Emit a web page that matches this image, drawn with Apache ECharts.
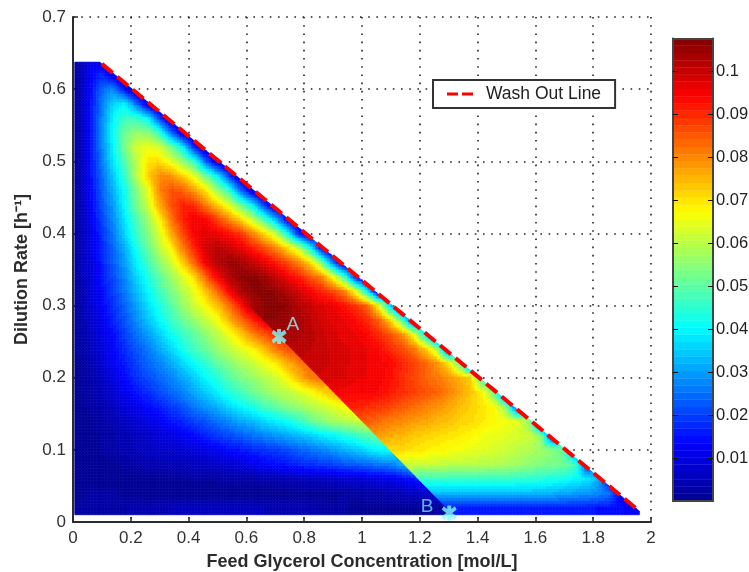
<!DOCTYPE html>
<html><head><meta charset="utf-8">
<script src="https://cdn.jsdelivr.net/npm/echarts@6/dist/echarts.min.js"></script>
<style>html,body{margin:0;background:#fff}#c{width:749px;height:572px}</style></head>
<body><div id="c"></div>
<script>
// ---- Data: values in 1/1000 units, one array per row ----
const xTicks=[0,0.2,0.4,0.6,0.8,1,1.2,1.4,1.6,1.8,2];
const yTicks=[0,0.1,0.2,0.3,0.4,0.5,0.6,0.7];
const barTicks=[0.01,0.02,0.03,0.04,0.05,0.06,0.07,0.08,0.09,0.1];
const washX=[0.1,1.96];
const washY=[0.635,0.015];
const jumpX=[0.715,1.3];           // line through A and B where the surface jumps
const jumpY=[0.257,0.0165];
const pointA=[0.713,0.257];
const pointB=[1.302,0.0125];
const rowY=[.02,.04,.06,.08,.10,.12,.14,.16,.18,.20,.22,.24,.26,.28,.30,.32,.34,.36,.38,.40,.42,.44,.46,.48,.50,.52,.54,.56,.58,.60,.62,.64];
const highStart=[31,30,29,27,26,25,24,23,21,20,19,18,17,15];
// below the jump line
const l02=[2,3,3,3,3,4,4,5,5,6,6,6,6,6,6,6,5,5,5,4,4,3,2,2,1,1,1,1,1,1,1,2,3];
const l04=[1,2,2,2,1,1,0,0,0,0,0,0,0,0,0,0,0,0,0,1,1,1,1,2,2,3,3,4,5,6,7,8];
const l06=[1,1,1,1,1,1,1,1,1,2,2,2,2,3,3,3,4,4,5,5,6,6,7,8,8,9,10,11,13,15,18];
const l08=[1,1,1,1,2,3,4,4,5,5,6,6,7,8,9,11,13,14,15,17,18,19,20,22,23,24,26,27,31,35];
const l10=[1,1,2,3,4,5,6,7,7,8,9,10,12,14,15,17,18,19,21,23,25,27,29,32,34,37,40,41];
const l12=[1,1,2,3,4,6,7,9,10,12,14,17,19,21,23,25,27,29,31,33,35,38,40,43,46,49,51];
const l14=[1,1,3,4,6,8,10,12,15,17,20,22,25,28,31,33,36,39,41,45,50,54,57,59,61,62];
const l16=[1,2,4,6,9,11,14,16,19,22,26,29,32,36,40,43,47,50,54,56,59,61,64,67,69];
const l18=[1,3,5,8,12,15,18,21,24,27,31,35,39,44,47,51,55,58,60,63,66,71,75,78];
const l20=[1,3,6,10,14,18,21,24,27,31,35,40,44,49,53,56,59,62,67,74,81,83];
const l22=[1,4,8,12,16,20,24,27,31,36,41,45,50,54,58,61,65,69,75,81,84];
const l24=[2,5,9,13,18,22,26,31,36,42,47,51,56,60,64,68,74,81,86,88];
const l26=[2,6,10,14,20,25,30,35,41,46,50,55,60,65,72,80,85,90,93];
const l28=[2,7,11,17,22,28,34,40,46,51,56,61,66,75,83,90,97,100];
const lowRows=[l02,l04,l06,l08,l10,l12,l14,l16,l18,l20,l22,l24,l26,l28];
// above the jump line (rows from 0.30 up are continuous and start at the left edge)
const h02=[16,16,16,16,16,16,16,16,16,16,16,16,16,16,15,15,14,12];
const h04=[33,33,33,33,33,33,33,33,33,33,33,32,31,30,29,28,25,10];
const h06=[46,46,46,46,46,46,46,46,46,45,45,44,43,42,40,38,32,10];
const h08=[62,62,62,61,61,60,60,60,59,59,58,57,55,54,53,52,48,18];
const h10=[72,71,71,70,69,68,67,66,65,64,63,62,60,59,57,55,50,20];
const h12=[78,78,76,75,73,72,71,70,69,68,66,65,64,63,62,55,15];
const h14=[86,85,83,81,80,78,77,75,74,72,71,69,68,66,64,55,15];
const h16=[91,91,90,89,87,85,83,81,79,77,74,72,70,67,55,15];
const h18=[96,96,95,95,95,94,92,90,88,86,84,81,77,73,68,50,15];
const h20=[99,99,98,98,96,96,95,93,90,87,84,82,79,76,72,40];
const h22=[100,100,100,99,98,97,96,95,94,91,88,84,79,71,50,12];
const h24=[102,102,101,100,99,98,97,96,94,90,87,82,74,60,15];
const h26=[104,104,103,102,100,98,97,96,94,90,86,80,67,40,8];
const h28=[105,106,106,105,104,101,99,97,96,94,90,84,72,50,15];
const h30=[2,8,13,18,24,30,37,43,49,56,62,67,74,82,92,103,106,107,106,103,100,98,96,93,89,84,67,35,8];
const h32=[2,8,14,20,26,33,40,47,53,59,65,74,83,94,103,106,107,106,103,99,95,91,87,81,66,40,5];
const h34=[3,9,15,21,28,36,43,50,57,63,71,84,95,102,106,107,105,101,96,92,86,81,67,48,15,3];
const h36=[3,9,16,23,30,39,47,55,62,72,84,96,102,105,104,101,97,92,87,81,72,55,25,4];
const h38=[3,10,17,24,32,42,51,60,68,81,91,99,102,100,97,92,87,81,72,62,43,14,3];
const h40=[3,10,18,26,36,46,54,63,76,87,95,97,96,93,89,81,72,62,44,18,5];
const h42=[3,11,20,28,38,48,57,68,82,91,96,95,88,80,72,61,49,33,13,4];
const h44=[3,12,22,30,41,52,62,76,86,91,90,81,73,64,52,40,20,5];
const h46=[3,13,23,32,42,54,65,81,86,85,78,70,57,46,25,8,3];
const h48=[3,14,24,35,46,59,72,80,79,73,65,52,40,20,5];
const h50=[3,14,26,38,49,60,70,71,65,56,46,24,7,2];
const h52=[3,14,27,40,53,63,65,63,53,40,17,4];
const h54=[3,14,27,41,52,56,55,46,25,8,2];
const h56=[3,14,27,40,47,46,40,20,4];
const h58=[3,14,26,36,40,25,8,3];
const h60=[3,13,24,28,14,4];
const h62=[3,12,18,10,3];
const h64=[3,11,10];
const highRows=[h02,h04,h06,h08,h10,h12,h14,h16,h18,h20,h22,h24,h26,h28,h30,h32,h34,h36,h38,h40,h42,h44,h46,h48,h50,h52,h54,h56,h58,h60,h62,h64];
const jet=[[0,0,143],[0,0,255],[0,128,255],[0,255,255],[128,255,128],[255,255,0],[255,128,0],[255,0,0],[128,0,0]];
const barMax=0.1077, barLevels=64;

// ---- Build ----
const dx=0.04, dy=0.02, xLo=0.006, xHi=1.96, yLo=0.01, yHi=0.6375, subX=4, subY=5;
const washM=(washY[1]-washY[0])/(washX[1]-washX[0]);
const jumpM=(jumpY[1]-jumpY[0])/(jumpX[1]-jumpX[0]);
function clip(poly,f){ // keep where f(p)>=0
  const out=[];
  for(let i=0;i<poly.length;i++){
    const a=poly[i],b=poly[(i+1)%poly.length],fa=f(a),fb=f(b);
    if(fa>=0)out.push(a);
    if((fa>=0)!==(fb>=0)){const t=fa/(fa-fb);out.push([a[0]+t*(b[0]-a[0]),a[1]+t*(b[1]-a[1])]);}
  }
  return out;
}
const belowWash=p=>washY[0]+washM*(p[0]-washX[0])-p[1];
const aboveJump=p=>p[1]-(jumpY[0]+jumpM*(p[0]-jumpX[0]));
const belowJump=p=>-aboveJump(p);
// jet colour scale with 64 flat levels, like the colour bar
function colorOf(v){
  const lvl=Math.max(0,Math.min(barLevels-1,Math.floor(v/barMax*barLevels)));
  const t=(lvl+0.5)/barLevels*(jet.length-1),i=Math.min(jet.length-2,Math.floor(t)),f=t-i;
  const c=jet[i].map((a,k)=>Math.round(a+f*(jet[i+1][k]-a)));
  return 'rgb('+c.join(',')+')';
}
// value tables for each side of the jump line, filled only from the rows above
const tables=[{},{}];
const cells=[];
rowY.forEach((y,r)=>{
  const low=lowRows[r], high=highRows[r], start=highStart[r]||0;
  if(low){low.forEach((v,i)=>{tables[0][r+'_'+i]=v/1000;cells.push([dx/2+i*dx,y,v/1000,0]);});}
  else high.forEach((v,i)=>{tables[0][r+'_'+i]=v/1000;});
  high.forEach((v,i)=>{tables[1][r+'_'+(start+i)]=v/1000;cells.push([dx/2+(start+i)*dx,y,v/1000,low?1:2]);});
});
// smooth shading inside a cell (the reference uses interpolated shading)
function shade(tb,x,y){
  const cf=(x-dx/2)/dx,rf=(y-rowY[0])/dy,c0=Math.floor(cf),r0=Math.floor(rf),a=cf-c0,b=rf-r0;
  let s=0,w=0;
  [[0,0,(1-a)*(1-b)],[1,0,a*(1-b)],[0,1,(1-a)*b],[1,1,a*b]].forEach(q=>{
    const v=tb[(r0+q[1])+'_'+(c0+q[0])];
    if(v!==undefined&&q[2]>0){s+=q[2]*v;w+=q[2];}
  });
  return w>0?s/w:null;
}
function renderCell(params,api){
  const x=api.value(0),y=api.value(1),kind=api.value(3),own=api.value(2);
  const children=[],w=dx/subX,h=dy/subY;
  for(let i=0;i<subX;i++)for(let j=0;j<subY;j++){
    const x0=x-dx/2+i*w,y0=y-dy/2+j*h;
    let p=[[x0,y0],[x0+w,y0],[x0+w,y0+h],[x0,y0+h]];
    p=clip(p,q=>q[0]-xLo);p=clip(p,q=>xHi-q[0]);p=clip(p,q=>q[1]-yLo);p=clip(p,q=>yHi-q[1]);
    p=clip(p,belowWash);
    if(kind===0)p=clip(p,belowJump);
    if(kind===1)p=clip(p,aboveJump);
    if(p.length<3)continue;
    const mx=x0+w/2,my=y0+h/2;
    const tb=kind===0?tables[0]:kind===1?tables[1]:(aboveJump([mx,my])>=0?tables[1]:tables[0]);
    const v=shade(tb,mx,my);
    const col=colorOf(v===null?own:v);
    children.push({type:'polygon',shape:{points:p.map(q=>api.coord(q))},style:{fill:col,stroke:col,lineWidth:0.6}});
  }
  return {type:'group',children};
}
const barStep=barMax/barLevels, barData=[];
for(let i=0;i<barLevels;i++)barData.push([(i+0.5)*barStep]);
function renderBar(params,api){
  const v=api.value(0);
  const a=api.coord([0,v-barStep/2]),b=api.coord([1,v+barStep/2]);
  const col=colorOf(v);
  return {type:'rect',shape:{x:a[0],y:b[1],width:b[0]-a[0],height:a[1]-b[1]},style:{fill:col,stroke:col,lineWidth:0.4}};
}
const font='"Liberation Sans",Arial,sans-serif', ink='#2b2b2b', dots=[1.6,6.6];
const chart=echarts.init(document.getElementById('c'),null,{renderer:'canvas'});
chart.setOption({
  animation:false,backgroundColor:'#fff',
  grid:[{left:73,top:17,width:578,height:505,outerBoundsMode:'none'},{left:673,top:38.5,width:40,height:462.5,outerBoundsMode:'none'}],
  xAxis:[
    {type:'value',gridIndex:0,min:0,max:2,interval:0.2,name:'Feed Glycerol Concentration [mol/L]',nameLocation:'middle',nameGap:31,
     nameTextStyle:{fontFamily:font,fontWeight:'bold',fontSize:18,color:ink},
     axisLine:{show:true,lineStyle:{color:ink,width:2}},axisTick:{show:true,inside:true,length:5,lineStyle:{color:ink,width:1.5}},
     axisLabel:{fontFamily:font,fontSize:17,color:'#333',margin:8,formatter:v=>String(+v.toFixed(1)),showMinLabel:true,showMaxLabel:true,hideOverlap:false},
     splitLine:{show:true,lineStyle:{color:'#222',type:dots,width:1.6}}},
    {type:'value',gridIndex:1,min:0,max:1,position:'bottom',axisLine:{show:true,onZero:false,lineStyle:{color:'#444',width:2}},axisTick:{show:false},axisLabel:{show:false},splitLine:{show:false},z:5},
    {type:'value',gridIndex:1,min:0,max:1,position:'top',axisLine:{show:true,onZero:false,lineStyle:{color:'#444',width:2}},axisTick:{show:false},axisLabel:{show:false},splitLine:{show:false},z:5}
  ],
  yAxis:[
    {type:'value',gridIndex:0,min:0,max:0.7,interval:0.1,name:'Dilution Rate [h\u207B\u00B9]',nameLocation:'middle',nameGap:40,
     nameTextStyle:{fontFamily:font,fontWeight:'bold',fontSize:18,color:ink},
     axisLine:{show:true,lineStyle:{color:ink,width:2}},axisTick:{show:true,inside:true,length:5,lineStyle:{color:ink,width:1.5}},
     axisLabel:{fontFamily:font,fontSize:17,color:'#333',margin:7,formatter:v=>String(+v.toFixed(1)),showMinLabel:true,showMaxLabel:true,hideOverlap:false},
     splitLine:{show:true,lineStyle:{color:'#222',type:dots,width:1.6}}},
    {type:'value',gridIndex:1,min:0,max:barMax,position:'right',z:5,
     axisLine:{show:true,onZero:false,lineStyle:{color:'#444',width:2}},
     axisTick:{show:true,inside:true,length:5,customValues:barTicks,lineStyle:{color:'#111',width:1}},
     axisLabel:{fontFamily:font,fontSize:16.5,color:'#222',margin:3,customValues:barTicks,formatter:v=>String(+v.toFixed(2))},
     splitLine:{show:false}},
    {type:'value',gridIndex:1,min:0,max:barMax,position:'left',z:5,
     axisLine:{show:true,onZero:false,lineStyle:{color:'#444',width:2}},
     axisTick:{show:true,inside:true,length:5,customValues:barTicks,lineStyle:{color:'#111',width:1}},
     axisLabel:{show:false},splitLine:{show:false}}
  ],
  legend:{show:true,data:['Wash Out Line'],left:433,top:80,padding:[5,14,5,14],itemWidth:26,itemHeight:3,itemGap:4,
    icon:'path://M0 0h11v3H0zM15 0h11v3H15z',
    itemStyle:{color:'#ff0000',borderWidth:0},
    backgroundColor:'#fff',borderColor:'#333',borderWidth:2,borderRadius:0,
    textStyle:{fontFamily:font,fontSize:17.5,color:'#222',padding:[0,0,0,8]},z:20},
  series:[
    {type:'custom',name:'surface',xAxisIndex:0,yAxisIndex:0,coordinateSystem:'cartesian2d',renderItem:renderCell,
     data:cells,encode:{x:0,y:1},z:2,silent:true,clip:true,dimensions:['x','y','v','k']},
    {type:'custom',name:'colorbar',xAxisIndex:1,yAxisIndex:1,renderItem:renderBar,data:barData,encode:{y:0},z:2,silent:true},
    {type:'line',name:'Wash Out Line',xAxisIndex:0,yAxisIndex:0,data:washX.map((x,i)=>[x,washY[i]]),showSymbol:false,symbol:'none',
     lineStyle:{color:'#ff0000',width:4,type:[14,6]},itemStyle:{color:'#ff0000'},z:3,clip:false},
    {type:'scatter',name:'points',xAxisIndex:0,yAxisIndex:0,z:4,clip:false,
     symbol:'path://M7.4 0h5.2v20H7.4zM0.2 5.4L2.8 0.9L19.8 14.6L17.2 19.1zM19.8 5.4L2.8 19.1L0.2 14.6L17.2 0.9z',symbolSize:15,
     itemStyle:{color:'#80ffff'},
     data:[{value:pointA,name:'A',label:{position:[15,-14]}},{value:pointB,name:'B',label:{position:[-21,-8],color:'#78dcff'}}],
     label:{show:true,formatter:'{b}',fontFamily:font,fontSize:19,color:'#88ffff'}}
  ]
});
</script></body></html>
